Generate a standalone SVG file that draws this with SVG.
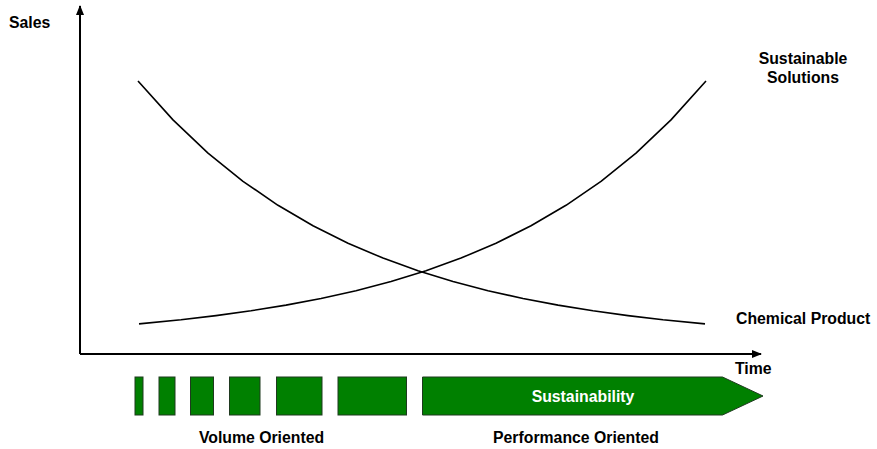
<svg xmlns="http://www.w3.org/2000/svg" width="877" height="449" viewBox="0 0 877 449">
<defs>
<style>
text{font-family:"Liberation Sans",Arial,sans-serif;font-weight:bold;font-size:15.8px;fill:#000}
.axis{stroke:#000;stroke-width:2;fill:none}
.curve{stroke:#000;stroke-width:1.6;fill:none;stroke-linejoin:round}
.blk{fill:#008000;stroke:#1f3a1f;stroke-width:1}
</style>
<marker id="ah" markerWidth="10" markerHeight="8" refX="9" refY="4" orient="auto" markerUnits="userSpaceOnUse">
<path d="M0,0 L10,4 L0,8 Z" fill="#000"/>
</marker>
</defs>
<rect width="877" height="449" fill="#fff"/>
<g id="connectors">
<polyline class="axis" points="80,354 80,6" marker-end="url(#ah)"/>
<polyline class="axis" points="80,354 761,354" marker-end="url(#ah)"/>
<polyline id="chemical-curve" class="curve" points="138,81 173,119.9 208,153.1 243,181.3 278,205.3 313,225.8 348,243.2 383,258.1 418,270.7 453,281.5 488,290.7 523,298.5 558,305.1 593,310.8 628,315.6 663,319.8 705,323.9"/>
<polyline id="sustainable-curve" class="curve" points="706,81 671,119.9 636,153.1 601,181.3 566,205.3 531,225.8 496,243.2 461,258.1 426,270.7 391,281.5 356,290.7 321,298.5 286,305.1 251,310.8 216,315.6 181,319.8 139,323.9"/>
</g>
<g id="sales-label"><text x="9" y="28">Sales</text></g>
<g id="time-label"><text x="735" y="374">Time</text></g>
<g id="sustainable-label"><text x="803" y="64" text-anchor="middle">Sustainable</text><text x="803" y="83" text-anchor="middle">Solutions</text></g>
<g id="chemical-label"><text x="736" y="324">Chemical Product</text></g>
<g id="volume-blocks">
<rect class="blk" x="135" y="377" width="8" height="38"/>
<rect class="blk" x="159" y="377" width="16" height="38"/>
<rect class="blk" x="190.5" y="377" width="23" height="38"/>
<rect class="blk" x="229.5" y="377" width="30.5" height="38"/>
<rect class="blk" x="276.5" y="377" width="45.5" height="38"/>
<rect class="blk" x="338" y="377" width="68.5" height="38"/>
</g>
<g id="sustainability-arrow">
<path class="blk" d="M422.5,377 L722.5,377 L763,396 L722.5,415 L422.5,415 Z"/>
<text x="583" y="402" text-anchor="middle" style="fill:#fff">Sustainability</text>
</g>
<g id="volume-label"><text x="261.5" y="443" text-anchor="middle">Volume Oriented</text></g>
<g id="performance-label"><text x="576" y="443" text-anchor="middle">Performance Oriented</text></g>
</svg>
